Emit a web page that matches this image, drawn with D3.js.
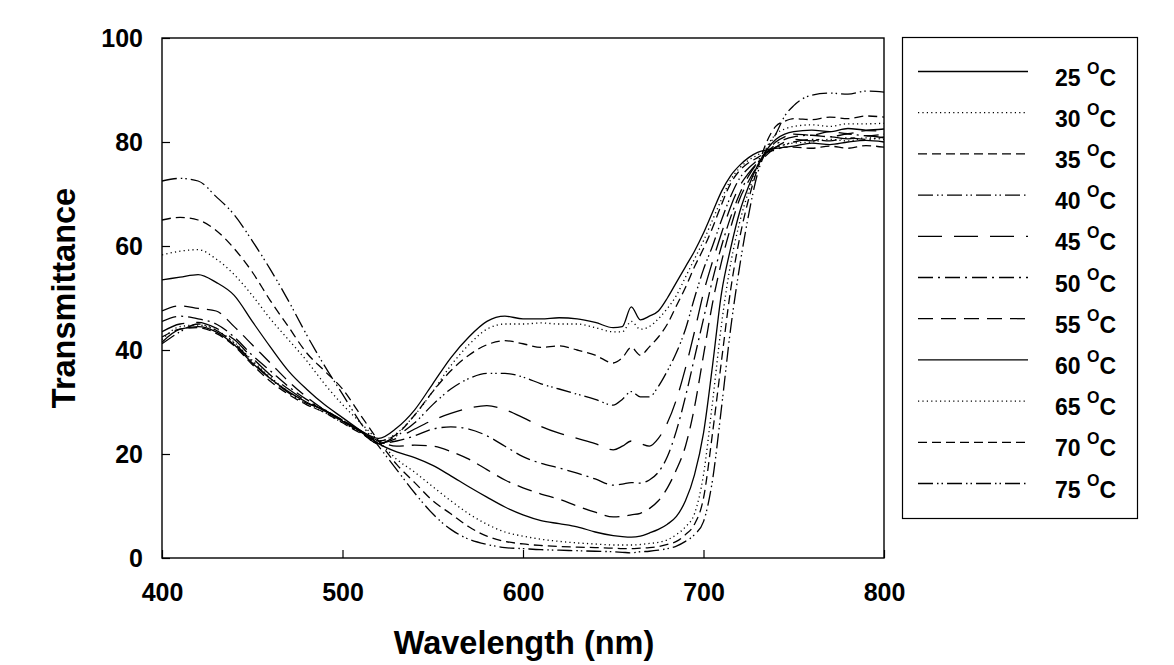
<!DOCTYPE html>
<html>
<head>
<meta charset="utf-8">
<script src="https://cdn.jsdelivr.net/npm/d3@7"></script>
<style>
  html, body { margin: 0; padding: 0; background: #fff; }
  svg { display: block; }
  text { font-family: "Liberation Sans", Arial, sans-serif; font-weight: bold; fill: #000; }
</style>
</head>
<body>
<svg id="chart" width="1174" height="665"></svg>
<script>
// ---------- data ----------
const wavelengths = [
  400,410,420,430,440,450,460,470,480,490,500,510,520,
  530,540,550,560,570,580,590,600,610,620,630,640,650,
  655,660,665,670,675,680,685,690,695,700,705,710,715,720,725,730,735,740,745,
  750,760,770,780,790,800
];

const t25 = [41.5,44,44.5,43.5,41,37.5,34.5,32,30,28.3,26.3,24.5,23,
  25,28.5,33.5,38.5,42.5,45.5,46.5,46,46,46.2,46,45.3,44.3,
  44.5,48.3,45.8,46.5,47.5,50,53,56,59,62.5,66.5,70.5,73.5,75.5,77,78,78.5,78.8,79,
  79.2,79.8,79.5,80,80.3,80];
const t30 = [42,44.5,44.8,43.8,41.5,38,34.8,32,29.6,28,26,24.2,22.5,
  24,27.5,32,37,41,44,45,45,45.2,45,45,44.3,43.5,
  43.5,45.5,44,44.5,46,48,50.5,54,57.5,61,65,69,72.7,75,76.5,77.5,78.5,79,79.5,
  79.8,80,80.5,80.2,80.8,80.5];
const t35 = [42.5,44,44.3,43.2,40.8,37.2,34,31.5,29.5,28,26,24,22.5,
  23.8,27.5,32,36,39,41,41.8,41.2,40.5,40.8,40,39,37.5,
  38.5,40.5,39,40.6,42.5,45,48.5,52,56,59.5,63.5,68,72,74.5,76,77,78,78.5,79,
  79,78.8,79.2,78.8,79.3,79];
const t40 = [41.2,43.5,45,43.8,41.3,37.8,34.5,31.8,29.8,28.5,26.5,24.3,22,
  23.5,26,29.5,32.5,34.5,35.5,35.5,34.8,33.5,32.5,31.5,30.5,29.4,
  30.5,32,31,31,33,36,39.5,44,50,55.5,60,65,69.5,73,75,76.5,78,79,79.5,
  80,80.5,80.2,80.8,80.5,81];
const t45 = [43.5,45,45.3,44.2,42,38.5,35.2,32.5,30.2,28.4,26.5,24.4,22,
  23,24.8,26.5,27.8,28.8,29.3,28.5,27,25.3,24,23,22,20.8,
  21.5,22.5,22,21.5,23,26,30.5,36.5,43.5,51,57,62.5,67.5,71.5,74,76,77.5,79,80,
  80.5,80.2,81,80.6,81.2,80.8];
const t50 = [45.5,46.5,46,45,42.5,39,36,33,30.5,28.5,26.3,24.2,22,
  22.5,23.5,24.8,25.2,24.8,23.5,21.5,19.5,18.2,17.3,16.3,15.2,14,
  14.2,14.5,14.4,15,16.5,19.5,24.5,31,38.5,46,53.5,60,65.5,70,73.5,76,78,79.5,80.5,
  81,81.3,81,81.5,81.2,81.5];
const t55 = [47.5,48.5,48,47.5,44.5,41,37.5,34,31,28.5,26.5,24.5,22.5,
  21.5,21.7,21.5,20.5,19,17,15,13.5,12.3,11.3,10,8.8,7.9,
  8,8.3,8.6,9.5,11,13.5,17,21.5,29,39,49,57,63.5,69,72.5,75.5,78,80,81,
  81.5,81.3,82,81.6,82.2,82];
const t60 = [53.5,54,54.5,53,50.5,45.5,40.6,36,32.5,29.5,27,24.5,22,
  20.4,19.3,17.8,15.8,13.7,11.7,9.8,8.3,7.2,6.6,6,5,4.3,
  4.1,4,4.2,4.8,5.5,6.5,8,11,16,24,37,51,59.5,66.5,71.5,75.5,78.5,80.5,81.5,
  82,82.3,82,82.6,82.3,82.5];
const t65 = [58.3,59,59.3,57.5,54.5,50.5,46,42,38,33.5,29.5,26,22.5,
  19,16.5,13.7,11,8.5,6.5,5,4.2,3.6,3.2,2.9,2.7,2.5,
  2.5,2.5,2.6,2.8,3,3.5,4.5,6,8.5,16,30,45,56.5,64.5,70.5,75,79,81.5,82.5,
  83,83.3,83,83.5,83.5,83.6];
const t70 = [65,65.5,65,63,59.5,55,49.5,44.5,39.5,36,32.5,27.5,22.5,
  18,14.5,11,8.5,6,4.2,3.2,2.7,2.4,2.2,2.1,2,1.9,
  1.8,1.8,1.9,2,2.2,2.6,3.2,4.5,6.5,11.5,24,38,51.5,61.5,69,75,80,83,84,
  84.5,84.3,84.8,84.5,85,84.8];
const t75 = [72.5,73,72.5,69.5,66,61,55.5,49.5,43,37,31.5,26,21.5,
  17,12.5,8.5,5.5,3.6,2.6,2,1.8,1.6,1.5,1.4,1.3,1.2,
  1.1,1.0,1.2,1.3,1.5,1.8,2.3,3.2,4.5,7,15,29,44,56,66,74,78.5,81.5,85,
  87,89,89.4,89.2,89.8,89.6];

const temperatures = ["25","30","35","40","45","50","55","60","65","70","75"];
const seriesValues = [t25,t30,t35,t40,t45,t50,t55,t60,t65,t70,t75];
const xTicks = [400,500,600,700,800];
const yTicks = [0,20,40,60,80,100];
const xTitle = "Wavelength (nm)";
const yTitle = "Transmittance";

// line styles (per series)
const dashStyles = [
  null,               // 25 solid
  "1.2,3.2",          // 30 dotted
  "9,5",              // 35 dashed
  "15,4,1.5,3,1.5,4", // 40 dash-dot-dot
  "24,12",            // 45 long dash
  "15,5,2,5",         // 50 dash-dot
  "15,8",             // 55 dash
  null,               // 60 solid
  "1.2,3.2",          // 65 dotted
  "9,5",              // 70 dashed
  "15,4,1.5,3,1.5,4"  // 75 dash-dot-dot
];

// ---------- layout ----------
const L = 162, R = 884, T = 38, B = 558;
const svg = d3.select("#chart");

const x = d3.scaleLinear().domain([400, 800]).range([L, R]);
const y = d3.scaleLinear().domain([0, 100]).range([B, T]);

svg.append("defs").append("clipPath").attr("id", "clip")
  .append("rect").attr("x", L).attr("y", T).attr("width", R - L).attr("height", B - T);

// lines
const line = d3.line()
  .x((d, i) => x(wavelengths[i]))
  .y(d => y(d))
  .curve(d3.curveMonotoneX);

const gLines = svg.append("g").attr("clip-path", "url(#clip)");
seriesValues.forEach((vals, k) => {
  gLines.append("path")
    .attr("d", line(vals))
    .attr("fill", "none")
    .attr("stroke", "#000")
    .attr("stroke-width", 1.3)
    .attr("stroke-dasharray", dashStyles[k]);
});

// frame
svg.append("rect")
  .attr("x", L).attr("y", T).attr("width", R - L).attr("height", B - T)
  .attr("fill", "none").attr("stroke", "#000").attr("stroke-width", 1.4);

// axes
const yAxis = d3.axisLeft(y).tickValues(yTicks).tickSize(-8).tickPadding(19)
  .tickFormat(d3.format("d"));
const gy = svg.append("g").attr("transform", `translate(${L},0)`).call(yAxis);
gy.select(".domain").remove();
gy.selectAll(".tick line").attr("stroke", "#000").attr("stroke-width", 1.2);
gy.selectAll(".tick text").style("font-size", "25px").attr("fill", "#000");

const xAxis = d3.axisBottom(x).tickValues(xTicks).tickSize(-8).tickPadding(25)
  .tickFormat(d3.format("d"));
const gx = svg.append("g").attr("transform", `translate(0,${B})`).call(xAxis);
gx.select(".domain").remove();
gx.selectAll(".tick line").attr("stroke", "#000").attr("stroke-width", 1.2);
gx.selectAll(".tick text").style("font-size", "25px").attr("fill", "#000");

// axis titles
svg.append("text")
  .attr("x", 524).attr("y", 654)
  .attr("text-anchor", "middle")
  .style("font-size", "32.5px")
  .text(xTitle);

svg.append("text")
  .attr("transform", "translate(75,298) rotate(-90)")
  .attr("text-anchor", "middle")
  .style("font-size", "32.5px")
  .text(yTitle);

// legend
const legX = 902, legY = 37, legW = 235, legH = 481;
svg.append("rect")
  .attr("x", legX + 0.5).attr("y", legY + 0.5).attr("width", legW).attr("height", legH)
  .attr("fill", "#fff").attr("stroke", "#000").attr("stroke-width", 1.2);

const legRow0 = 71.5, legStep = 41.2;
temperatures.forEach((t, k) => {
  const ly = legRow0 + k * legStep;
  svg.append("line")
    .attr("x1", 918).attr("x2", 1028).attr("y1", ly).attr("y2", ly)
    .attr("stroke", "#000").attr("stroke-width", 1.3)
    .attr("stroke-dasharray", dashStyles[k]);
  const tx = svg.append("text")
    .attr("x", 1055).attr("y", ly + 14)
    .style("font-size", "23px");
  tx.append("tspan").text(t + " ");
  tx.append("tspan").attr("dy", -12).attr("dx", 0).style("font-size", "16px").text("O");
  tx.append("tspan").attr("dy", 12).text("C");
});
</script>
</body>
</html>
